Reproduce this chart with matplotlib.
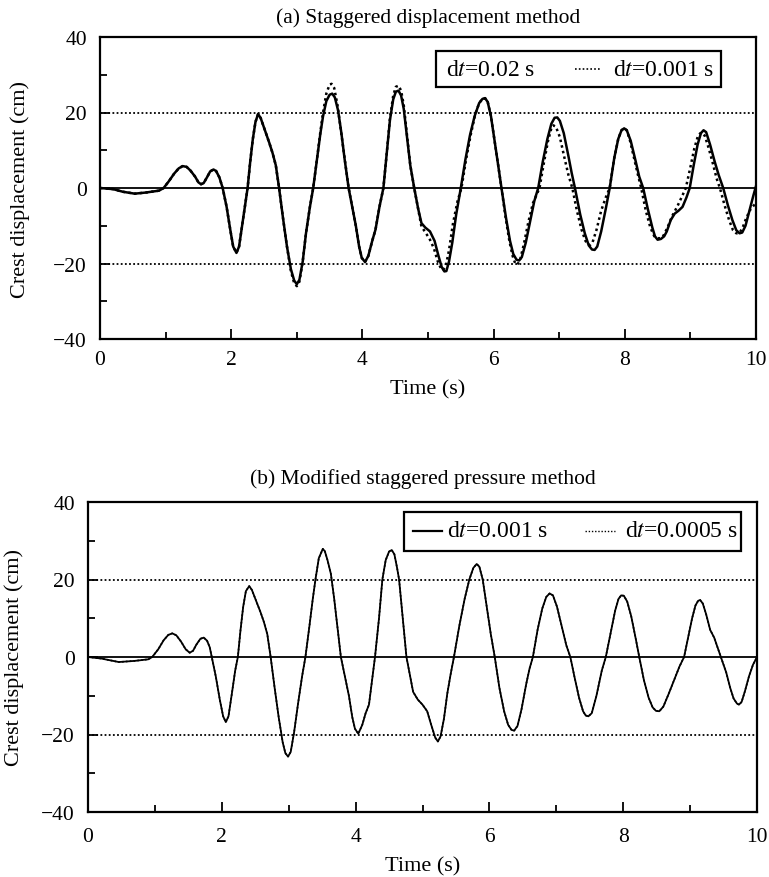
import matplotlib
matplotlib.use("Agg")
import matplotlib.pyplot as plt
from matplotlib.patches import Rectangle

plt.rcParams["font.family"] = ["Liberation Serif", "DejaVu Serif"]
plt.rcParams["mathtext.fontset"] = "stix"

# ---------------- (a) staggered displacement method ----------------
# (time s, crest displacement cm), dt = 0.02 s
a_coarse = [
    (0.0, 0.0), (0.2, -0.3), (0.35, -1.0), (0.53, -1.5), (0.7, -1.2), (0.9, -0.7),
    (0.97, 0.0), (1.05, 1.8), (1.13, 3.8), (1.2, 5.2), (1.26, 5.8), (1.32, 5.6),
    (1.38, 4.6), (1.45, 3.0), (1.5, 1.5), (1.54, 1.0), (1.58, 1.3), (1.63, 2.8),
    (1.68, 4.4), (1.73, 4.9), (1.77, 4.5), (1.82, 2.8), (1.87, 0.0), (1.93, -5.0),
    (1.99, -11.5), (2.03, -15.5), (2.08, -17.2), (2.12, -15.5), (2.17, -9.5),
    (2.21, -4.5), (2.25, 0.0), (2.29, 7.0), (2.33, 13.0), (2.37, 17.5), (2.41, 19.6),
    (2.45, 18.5), (2.49, 16.5), (2.53, 14.5), (2.58, 12.0), (2.63, 9.3), (2.68, 6.0),
    (2.73, 0.0), (2.79, -8.0), (2.85, -15.5), (2.91, -21.5), (2.96, -24.5),
    (3.0, -25.5), (3.04, -24.3), (3.09, -19.5), (3.14, -12.0), (3.2, -5.0),
    (3.25, 0.0), (3.31, 8.0), (3.36, 14.5), (3.4, 19.0), (3.45, 23.0), (3.5, 24.7),
    (3.54, 25.0), (3.58, 24.0), (3.63, 20.5), (3.68, 14.5), (3.73, 7.5), (3.79, 0.0),
    (3.85, -5.5), (3.9, -10.0), (3.95, -15.5), (3.99, -18.5), (4.04, -19.6),
    (4.09, -18.0), (4.15, -14.0), (4.2, -11.0), (4.26, -5.0), (4.32, 0.0),
    (4.37, 9.0), (4.42, 18.0), (4.47, 23.5), (4.51, 25.5), (4.55, 25.8), (4.59, 24.5),
    (4.63, 21.0), (4.67, 15.0), (4.73, 6.0), (4.79, 0.0), (4.85, -5.5), (4.9, -9.3),
    (4.96, -10.5), (5.03, -11.5), (5.1, -14.0), (5.16, -18.0), (5.21, -21.0),
    (5.25, -22.1), (5.28, -22.0), (5.32, -19.5), (5.37, -14.5), (5.43, -7.0),
    (5.5, 0.0), (5.57, 7.5), (5.64, 14.0), (5.71, 19.0), (5.78, 22.5), (5.83, 23.6),
    (5.87, 23.8), (5.91, 22.8), (5.96, 19.0), (6.02, 12.0), (6.07, 6.0), (6.12, 0.0),
    (6.19, -8.0), (6.25, -14.0), (6.3, -17.5), (6.35, -19.0), (6.39, -19.2),
    (6.43, -18.3), (6.49, -14.5), (6.56, -8.5), (6.62, -3.5), (6.68, 0.0),
    (6.75, 7.0), (6.82, 13.0), (6.88, 17.0), (6.93, 18.6), (6.97, 18.7), (7.01, 17.8),
    (7.07, 14.5), (7.14, 8.5), (7.19, 4.0), (7.24, 0.0), (7.32, -7.0), (7.39, -12.0),
    (7.45, -15.2), (7.5, -16.3), (7.54, -16.4), (7.58, -15.5), (7.64, -11.5),
    (7.71, -5.5), (7.77, 0.0), (7.84, 8.0), (7.9, 13.0), (7.95, 15.3), (7.99, 15.8),
    (8.03, 15.3), (8.09, 12.5), (8.16, 7.5), (8.22, 3.0), (8.28, 0.0), (8.35, -5.5),
    (8.42, -10.5), (8.46, -12.8), (8.5, -13.7), (8.55, -13.5), (8.6, -12.8),
    (8.64, -11.5), (8.7, -8.5), (8.76, -6.8), (8.82, -6.0), (8.88, -5.0),
    (8.94, -2.5), (8.99, 0.0), (9.05, 6.0), (9.11, 11.5), (9.16, 14.5), (9.2, 15.3),
    (9.24, 14.8), (9.3, 11.5), (9.37, 7.0), (9.43, 3.5), (9.5, 0.0), (9.57, -4.5),
    (9.64, -8.5), (9.7, -11.2), (9.75, -12.0), (9.79, -11.8), (9.84, -10.0),
    (9.9, -6.0), (9.96, -2.0), (10.0, 0.5),
]

# (time s, crest displacement cm), dt = 0.001 s
a_fine = [
    (0.0, 0.0), (0.2, -0.3), (0.35, -1.0), (0.53, -1.5), (0.7, -1.2), (0.9, -0.7),
    (0.97, 0.0), (1.05, 1.8), (1.13, 3.8), (1.2, 5.2), (1.26, 5.8), (1.32, 5.6),
    (1.38, 4.6), (1.45, 3.0), (1.5, 1.5), (1.54, 1.0), (1.58, 1.3), (1.63, 2.8),
    (1.68, 4.4), (1.73, 4.9), (1.77, 4.5), (1.82, 2.8), (1.87, 0.0), (1.93, -5.0),
    (1.99, -11.5), (2.03, -15.5), (2.08, -17.2), (2.12, -15.5), (2.17, -9.5),
    (2.21, -4.5), (2.25, 0.0), (2.29, 7.0), (2.33, 13.0), (2.37, 17.5), (2.41, 19.6),
    (2.45, 18.5), (2.49, 16.5), (2.53, 14.5), (2.58, 12.0), (2.63, 9.3), (2.68, 6.0),
    (2.73, 0.0), (2.79, -8.0), (2.85, -15.5), (2.91, -22.0), (2.96, -25.2),
    (3.0, -26.0), (3.04, -24.8), (3.09, -19.5), (3.14, -12.0), (3.2, -5.0),
    (3.25, 0.0), (3.31, 8.0), (3.36, 15.0), (3.4, 20.0), (3.45, 25.0), (3.5, 27.4),
    (3.53, 27.6), (3.57, 26.5), (3.62, 22.0), (3.67, 15.5), (3.73, 7.5), (3.79, 0.0),
    (3.85, -5.5), (3.9, -10.0), (3.95, -15.5), (3.99, -18.5), (4.04, -19.6),
    (4.09, -18.0), (4.15, -14.0), (4.2, -11.0), (4.26, -5.0), (4.32, 0.0),
    (4.37, 9.0), (4.42, 18.5), (4.47, 24.5), (4.51, 26.8), (4.55, 27.1), (4.59, 25.8),
    (4.63, 22.0), (4.67, 15.5), (4.73, 6.0), (4.79, 0.0), (4.85, -5.5), (4.9, -10.2),
    (4.97, -12.0), (5.03, -13.7), (5.09, -16.0), (5.15, -19.5), (5.2, -21.4),
    (5.23, -21.7), (5.27, -20.8), (5.32, -16.5), (5.38, -9.5), (5.45, -3.5),
    (5.51, 0.0), (5.58, 7.5), (5.65, 14.0), (5.72, 19.5), (5.78, 22.5), (5.83, 23.6),
    (5.87, 23.8), (5.91, 22.8), (5.96, 19.0), (6.02, 12.0), (6.07, 6.0), (6.12, 0.0),
    (6.18, -7.5), (6.24, -14.0), (6.29, -18.0), (6.33, -20.0), (6.36, -20.3),
    (6.4, -19.3), (6.46, -15.0), (6.53, -9.0), (6.6, -4.0), (6.7, 0.0), (6.77, 7.0),
    (6.83, 12.5), (6.88, 15.8), (6.91, 16.6), (6.95, 16.2), (7.01, 13.5), (7.08, 8.0),
    (7.14, 3.5), (7.2, 0.0), (7.27, -6.0), (7.34, -11.0), (7.4, -14.0), (7.44, -15.0),
    (7.47, -15.1), (7.51, -14.3), (7.57, -11.0), (7.64, -6.0), (7.71, -2.5),
    (7.77, 0.0), (7.84, 8.0), (7.9, 13.0), (7.95, 15.3), (7.99, 15.8), (8.03, 15.3),
    (8.08, 12.5), (8.14, 8.0), (8.2, 3.5), (8.25, 0.0), (8.32, -6.0), (8.39, -10.5),
    (8.45, -12.8), (8.5, -13.3), (8.54, -13.3), (8.59, -12.6), (8.65, -10.5),
    (8.72, -7.5), (8.8, -4.9), (8.87, -2.3), (8.93, 0.0), (9.0, 5.5), (9.06, 10.5),
    (9.11, 13.5), (9.15, 14.5), (9.18, 14.6), (9.22, 13.8), (9.28, 10.5), (9.35, 6.0),
    (9.4, 2.5), (9.45, 0.0), (9.52, -4.5), (9.59, -8.5), (9.65, -11.2), (9.7, -12.0),
    (9.74, -12.0), (9.79, -10.8), (9.85, -8.0), (9.92, -5.5), (10.0, -4.0),
]

# ---------------- (b) modified staggered pressure method ----------------
# (time s, crest displacement cm), dt = 0.001 s
b_dt001 = [
    (0.0, 0.0), (0.2, -0.4), (0.46, -1.3), (0.7, -1.0), (0.9, -0.6), (0.96, 0.0),
    (1.05, 2.0), (1.13, 4.3), (1.2, 5.7), (1.26, 6.1), (1.32, 5.6), (1.39, 4.0),
    (1.46, 2.0), (1.52, 1.1), (1.57, 1.6), (1.62, 3.2), (1.68, 4.7), (1.73, 5.0),
    (1.78, 4.2), (1.82, 2.5), (1.85, 0.0), (1.91, -5.0), (1.97, -11.0), (2.02, -15.3),
    (2.06, -16.8), (2.1, -15.3), (2.15, -9.5), (2.2, -3.5), (2.24, 0.0), (2.28, 7.0),
    (2.32, 13.0), (2.36, 17.0), (2.41, 18.3), (2.45, 17.3), (2.49, 15.5), (2.53, 13.7),
    (2.58, 11.5), (2.63, 9.0), (2.68, 5.9), (2.73, 0.0), (2.79, -8.0), (2.85, -15.5),
    (2.91, -22.0), (2.95, -24.8), (2.99, -25.7), (3.03, -24.5), (3.08, -19.5),
    (3.14, -12.0), (3.2, -5.0), (3.25, 0.0), (3.31, 8.0), (3.36, 15.0), (3.4, 20.0),
    (3.45, 25.5), (3.51, 27.9), (3.54, 27.3), (3.58, 25.0), (3.63, 21.5), (3.68, 15.0),
    (3.73, 7.5), (3.78, 0.0), (3.84, -5.0), (3.9, -10.0), (3.95, -15.5), (3.99, -18.5),
    (4.04, -19.8), (4.1, -17.5), (4.15, -14.5), (4.2, -12.3), (4.25, -5.5), (4.29, 0.0),
    (4.35, 10.0), (4.4, 20.0), (4.45, 25.0), (4.5, 27.2), (4.54, 27.6), (4.58, 26.5),
    (4.62, 23.0), (4.65, 20.0), (4.7, 11.0), (4.76, 0.0), (4.81, -4.5), (4.86, -9.0),
    (4.93, -11.0), (5.0, -12.3), (5.07, -14.0), (5.13, -17.5), (5.19, -20.8),
    (5.23, -21.8), (5.27, -20.5), (5.32, -16.0), (5.37, -9.5), (5.42, -4.5),
    (5.47, 0.0), (5.55, 8.0), (5.63, 15.0), (5.7, 20.0), (5.76, 23.0), (5.81, 24.0),
    (5.85, 23.3), (5.9, 20.0), (5.96, 13.0), (6.02, 6.0), (6.08, 0.0), (6.15, -8.0),
    (6.22, -14.0), (6.28, -17.5), (6.33, -18.8), (6.37, -19.0), (6.42, -17.8),
    (6.48, -13.5), (6.55, -7.0), (6.6, -3.0), (6.65, 0.0), (6.72, 7.0), (6.79, 12.5),
    (6.85, 15.5), (6.9, 16.4), (6.95, 15.9), (7.01, 13.0), (7.08, 8.0), (7.15, 3.0),
    (7.21, 0.0), (7.27, -5.0), (7.34, -10.5), (7.4, -14.0), (7.44, -15.1),
    (7.48, -15.3), (7.53, -14.5), (7.6, -10.0), (7.68, -3.5), (7.74, 0.0), (7.81, 6.0),
    (7.88, 12.0), (7.93, 15.0), (7.97, 15.9), (8.01, 15.8), (8.06, 14.3), (8.12, 10.5),
    (8.19, 4.5), (8.24, 0.0), (8.31, -6.0), (8.38, -10.5), (8.44, -13.0), (8.49, -13.9),
    (8.54, -14.0), (8.6, -12.8), (8.68, -9.5), (8.76, -6.0), (8.84, -2.5), (8.91, 0.0),
    (8.97, 5.0), (9.03, 10.0), (9.08, 13.3), (9.12, 14.5), (9.15, 14.7), (9.19, 13.8),
    (9.24, 11.0), (9.3, 7.0), (9.36, 5.0), (9.42, 2.0), (9.46, 0.0), (9.54, -4.0),
    (9.6, -8.0), (9.65, -10.7), (9.7, -12.0), (9.73, -12.3), (9.77, -11.6),
    (9.82, -8.8), (9.88, -5.0), (9.94, -2.0), (10.0, 0.0),
]
# dt = 0.0005 s: same trace to within the line width
b_dt0005 = list(b_dt001)

ref_levels = [-20, 20]
x_major = [0, 2, 4, 6, 8, 10]
x_minor = [1, 3, 5, 7, 9]
y_major = [-40, -20, 0, 20, 40]
y_minor = [-30, -10, 10, 30]


def unzip(pairs):
    return [p[0] for p in pairs], [p[1] for p in pairs]


W, H = 769, 878
fig = plt.figure(figsize=(W / 100, H / 100), dpi=100)


def px_axes(l, t, r, b):
    return fig.add_axes([l / W, 1 - b / H, (r - l) / W, (b - t) / H])


ax_a = px_axes(100, 38, 756, 340)
ax_b = px_axes(88, 503, 757, 813)

dotted = (0, (1, 1.3))


def style(ax, title, title_pad, ylab_x, xpad):
    ax.set_xlim(0, 10)
    ax.set_ylim(-40, 40)
    ax.set_xticks(x_major)
    ax.set_xticks(x_minor, minor=True)
    ax.set_yticks(y_major)
    ax.set_yticks(y_minor, minor=True)
    ax.set_xticklabels([str(v) for v in x_major])
    ax.set_yticklabels(["\u2212" + str(-v) if v < 0 else str(v) for v in y_major])
    ax.tick_params(which="both", direction="in", width=1.3, labelsize=15.5,
                   top=False, right=False)
    ax.tick_params(which="major", length=7)
    ax.tick_params(which="minor", length=5)
    ax.tick_params(axis="x", which="major", pad=xpad)
    ax.tick_params(axis="y", which="major", pad=9.5)
    for s in ax.spines.values():
        s.set_linewidth(1.6)
    ax.axhline(0, color="black", lw=1.3, zorder=1)
    for lv in ref_levels:
        ax.axhline(lv, color="black", lw=1.3, ls=dotted, zorder=1)
    ax.set_title(title, fontsize=15.5, pad=title_pad)
    ax.set_xlabel("Time (s)", fontsize=16, labelpad=7)
    ax.set_ylabel("Crest displacement (cm)", fontsize=16)
    ax.yaxis.set_label_coords(ylab_x, 0.5)


style(ax_a, "(a) Staggered displacement method", 11, -0.106, 8)
style(ax_b, "(b) Modified staggered pressure method", 14, -0.096, 11)

# panel (a) traces
t, v = unzip(a_coarse)
ax_a.plot(t, v, color="black", lw=1.8, zorder=3)
t, v = unzip(a_fine)
ax_a.plot(t, v, color="black", lw=1.8, ls=dotted, zorder=3)

# panel (b) traces
t, v = unzip(b_dt0005)
ax_b.plot(t, v, color="black", lw=1.2, ls=dotted, zorder=3)
t, v = unzip(b_dt001)
ax_b.plot(t, v, color="black", lw=1.3, zorder=3)


def legend_box(ax, x0, y0, x1, y1):
    ax.add_patch(Rectangle((x0, y0), x1 - x0, y1 - y0, transform=ax.transAxes,
                           facecolor="white", edgecolor="black", lw=1.6, zorder=5))


# legend of panel (a)
legend_box(ax_a, 0.512, 0.834, 0.947, 0.954)
ax_a.text(0.527, 0.894, r"d$t$=0.02 s", transform=ax_a.transAxes, fontsize=17,
          va="center", ha="left", zorder=6)
ax_a.plot([0.724, 0.762], [0.894, 0.894], transform=ax_a.transAxes, color="black",
          lw=1.2, ls=dotted, zorder=6)
ax_a.text(0.782, 0.894, r"d$t$=0.001 s", transform=ax_a.transAxes, fontsize=17,
          va="center", ha="left", zorder=6)

# legend of panel (b)
legend_box(ax_b, 0.472, 0.842, 0.976, 0.968)
ax_b.plot([0.486, 0.529], [0.907, 0.907], transform=ax_b.transAxes, color="black",
          lw=1.6, zorder=6)
ax_b.text(0.537, 0.907, r"d$t$=0.001 s", transform=ax_b.transAxes, fontsize=17,
          va="center", ha="left", zorder=6)
ax_b.plot([0.743, 0.788], [0.907, 0.907], transform=ax_b.transAxes, color="black",
          lw=1.0, ls=dotted, zorder=6)
ax_b.text(0.803, 0.907, r"d$t$=0.0005 s", transform=ax_b.transAxes, fontsize=17,
          va="center", ha="left", zorder=6)

fig.savefig("out.png", dpi=100)
